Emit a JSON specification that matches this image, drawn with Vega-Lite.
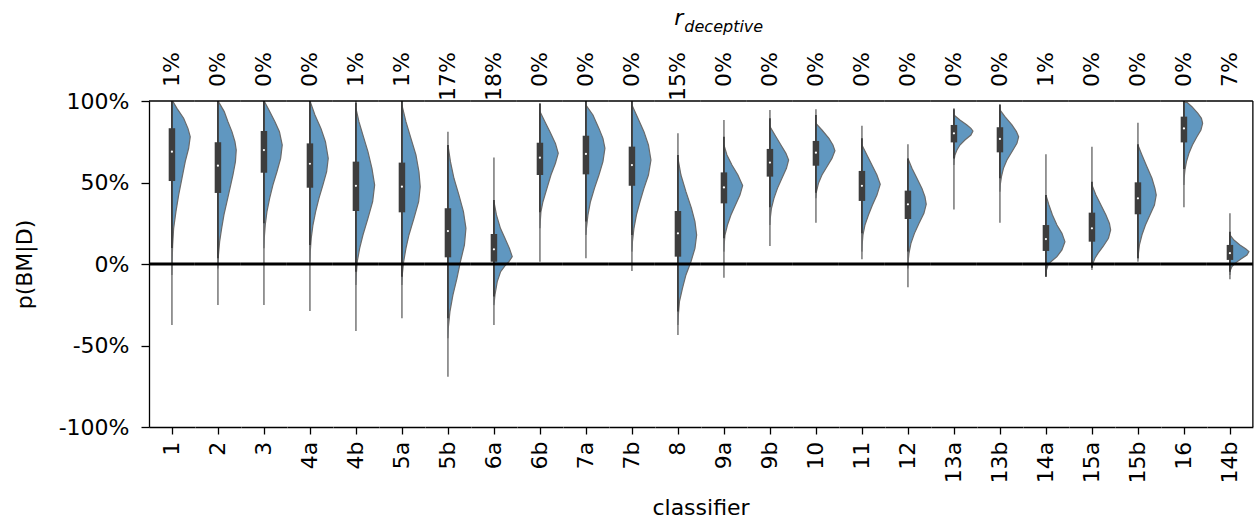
{
  "$schema": "https://vega.github.io/schema/vega-lite/v6.json",
  "padding": {"left": 13, "top": 7, "right": 5, "bottom": 5},
  "background": "white",
  "bounds": "flush",
  "spacing": 0,
  "config": {
    "font": "DejaVu Sans",
    "view": {"stroke": null},
    "axis": {"domainColor": "black", "domainWidth": 1.3, "tickColor": "black", "tickWidth": 1.3, "labelColor": "black", "titleColor": "black", "grid": false}
  },
  "title": {"text": "r", "subtitle": "\u200b\u00a0\u00a0deceptive", "fontStyle": "italic", "fontSize": 22, "fontWeight": "normal", "color": "black", "subtitleFontStyle": "italic", "subtitleFontSize": 16, "subtitleColor": "black", "anchor": "start", "frame": "bounds", "dx": 661, "offset": 16, "subtitlePadding": -11},
  "data": {"values": [
    {"c":"1","r":"1%","lo":-0.374,"hi":1.0,"wlo":0.098,"whi":1.0,"q1":0.509,"q3":0.833,"med":0.689},
    {"c":"2","r":"0%","lo":-0.252,"hi":1.0,"wlo":0.035,"whi":1.0,"q1":0.436,"q3":0.747,"med":0.603},
    {"c":"3","r":"0%","lo":-0.252,"hi":1.0,"wlo":0.25,"whi":1.0,"q1":0.56,"q3":0.816,"med":0.699},
    {"c":"4a","r":"0%","lo":-0.288,"hi":1.0,"wlo":0.117,"whi":1.0,"q1":0.468,"q3":0.74,"med":0.615},
    {"c":"4b","r":"1%","lo":-0.411,"hi":1.0,"wlo":-0.047,"whi":0.99,"q1":0.325,"q3":0.628,"med":0.48},
    {"c":"5a","r":"1%","lo":-0.333,"hi":1.0,"wlo":-0.078,"whi":1.0,"q1":0.317,"q3":0.622,"med":0.474},
    {"c":"5b","r":"17%","lo":-0.691,"hi":0.812,"wlo":-0.333,"whi":0.73,"q1":0.041,"q3":0.342,"med":0.202},
    {"c":"6a","r":"18%","lo":-0.374,"hi":0.654,"wlo":-0.2,"whi":0.393,"q1":0.014,"q3":0.184,"med":0.09},
    {"c":"6b","r":"0%","lo":0.014,"hi":0.985,"wlo":0.317,"whi":0.985,"q1":0.546,"q3":0.744,"med":0.652},
    {"c":"7a","r":"0%","lo":0.035,"hi":1.0,"wlo":0.26,"whi":1.0,"q1":0.55,"q3":0.787,"med":0.675},
    {"c":"7b","r":"0%","lo":-0.043,"hi":1.0,"wlo":0.178,"whi":1.0,"q1":0.48,"q3":0.72,"med":0.607},
    {"c":"8","r":"15%","lo":-0.436,"hi":0.802,"wlo":-0.292,"whi":0.669,"q1":0.045,"q3":0.325,"med":0.188},
    {"c":"9a","r":"0%","lo":-0.084,"hi":0.883,"wlo":0.158,"whi":0.781,"q1":0.372,"q3":0.562,"med":0.47},
    {"c":"9b","r":"0%","lo":0.11,"hi":0.945,"wlo":0.348,"whi":0.894,"q1":0.536,"q3":0.706,"med":0.622},
    {"c":"10","r":"0%","lo":0.253,"hi":0.949,"wlo":0.437,"whi":0.914,"q1":0.603,"q3":0.755,"med":0.683},
    {"c":"11","r":"0%","lo":0.029,"hi":0.848,"wlo":0.188,"whi":0.771,"q1":0.387,"q3":0.571,"med":0.48},
    {"c":"12","r":"0%","lo":-0.143,"hi":0.734,"wlo":0.076,"whi":0.648,"q1":0.276,"q3":0.45,"med":0.366},
    {"c":"13a","r":"0%","lo":0.335,"hi":0.955,"wlo":0.648,"whi":0.95,"q1":0.746,"q3":0.853,"med":0.802},
    {"c":"13b","r":"0%","lo":0.253,"hi":0.982,"wlo":0.526,"whi":0.975,"q1":0.685,"q3":0.839,"med":0.767},
    {"c":"14a","r":"1%","lo":-0.078,"hi":0.673,"wlo":-0.078,"whi":0.423,"q1":0.08,"q3":0.239,"med":0.153},
    {"c":"15a","r":"0%","lo":-0.023,"hi":0.72,"wlo":-0.023,"whi":0.505,"q1":0.137,"q3":0.315,"med":0.219},
    {"c":"15b","r":"0%","lo":0.035,"hi":0.867,"wlo":0.035,"whi":0.734,"q1":0.305,"q3":0.501,"med":0.403},
    {"c":"16","r":"0%","lo":0.348,"hi":1.0,"wlo":0.583,"whi":1.0,"q1":0.746,"q3":0.904,"med":0.832},
    {"c":"14b","r":"7%","lo":-0.094,"hi":0.311,"wlo":-0.047,"whi":0.198,"q1":0.025,"q3":0.117,"med":0.066},

    {"c":"1","v":0.996,"d":1},{"c":"1","v":0.955,"d":5},{"c":"1","v":0.894,"d":11.7},{"c":"1","v":0.832,"d":16},{"c":"1","v":0.781,"d":18.3},{"c":"1","v":0.71,"d":16.7},{"c":"1","v":0.628,"d":13.3},{"c":"1","v":0.526,"d":10},{"c":"1","v":0.423,"d":6.7},{"c":"1","v":0.321,"d":4},{"c":"1","v":0.219,"d":1.7},{"c":"1","v":0.117,"d":0.7},{"c":"1","v":0.014,"d":0.2},{"c":"1","v":-0.067,"d":0},

    {"c":"2","v":0.996,"d":0.5},{"c":"2","v":0.935,"d":6.3},{"c":"2","v":0.873,"d":10},{"c":"2","v":0.812,"d":14},{"c":"2","v":0.75,"d":17},{"c":"2","v":0.699,"d":18.3},{"c":"2","v":0.628,"d":17.5},{"c":"2","v":0.546,"d":15},{"c":"2","v":0.464,"d":12},{"c":"2","v":0.382,"d":9},{"c":"2","v":0.301,"d":6},{"c":"2","v":0.219,"d":3.7},{"c":"2","v":0.137,"d":1.7},{"c":"2","v":0.055,"d":0.5},{"c":"2","v":-0.027,"d":0},

    {"c":"3","v":0.996,"d":0.5},{"c":"3","v":0.945,"d":5},{"c":"3","v":0.873,"d":11},{"c":"3","v":0.812,"d":15.5},{"c":"3","v":0.73,"d":18.3},{"c":"3","v":0.648,"d":16.7},{"c":"3","v":0.566,"d":13},{"c":"3","v":0.485,"d":9},{"c":"3","v":0.403,"d":5.7},{"c":"3","v":0.321,"d":3},{"c":"3","v":0.239,"d":1.3},{"c":"3","v":0.158,"d":0.3},{"c":"3","v":0.096,"d":0},

    {"c":"4a","v":0.996,"d":0.3},{"c":"4a","v":0.914,"d":5},{"c":"4a","v":0.832,"d":11},{"c":"4a","v":0.75,"d":15.5},{"c":"4a","v":0.648,"d":18.3},{"c":"4a","v":0.566,"d":16.7},{"c":"4a","v":0.485,"d":13},{"c":"4a","v":0.403,"d":9},{"c":"4a","v":0.321,"d":5.7},{"c":"4a","v":0.239,"d":3},{"c":"4a","v":0.158,"d":1.3},{"c":"4a","v":0.076,"d":0.3},{"c":"4a","v":0.014,"d":0},

    {"c":"4b","v":0.955,"d":0},{"c":"4b","v":0.873,"d":3},{"c":"4b","v":0.791,"d":7},{"c":"4b","v":0.689,"d":12},{"c":"4b","v":0.587,"d":16},{"c":"4b","v":0.485,"d":18.7},{"c":"4b","v":0.382,"d":16.7},{"c":"4b","v":0.28,"d":12},{"c":"4b","v":0.178,"d":7},{"c":"4b","v":0.096,"d":3.7},{"c":"4b","v":0.014,"d":1.3},{"c":"4b","v":-0.067,"d":0.3},{"c":"4b","v":-0.129,"d":0},

    {"c":"5a","v":0.975,"d":0},{"c":"5a","v":0.873,"d":4},{"c":"5a","v":0.771,"d":9},{"c":"5a","v":0.669,"d":14},{"c":"5a","v":0.566,"d":17},{"c":"5a","v":0.474,"d":18.3},{"c":"5a","v":0.382,"d":16.7},{"c":"5a","v":0.28,"d":12},{"c":"5a","v":0.178,"d":7},{"c":"5a","v":0.096,"d":4},{"c":"5a","v":0.014,"d":1.7},{"c":"5a","v":-0.067,"d":0.3},{"c":"5a","v":-0.129,"d":0},

    {"c":"5b","v":0.73,"d":0},{"c":"5b","v":0.628,"d":2.5},{"c":"5b","v":0.526,"d":6},{"c":"5b","v":0.423,"d":11},{"c":"5b","v":0.321,"d":15.5},{"c":"5b","v":0.219,"d":18},{"c":"5b","v":0.117,"d":16.5},{"c":"5b","v":0.014,"d":12.5},{"c":"5b","v":-0.088,"d":9},{"c":"5b","v":-0.19,"d":5},{"c":"5b","v":-0.292,"d":2},{"c":"5b","v":-0.395,"d":0.3},{"c":"5b","v":-0.456,"d":0},

    {"c":"6a","v":0.382,"d":0},{"c":"6a","v":0.301,"d":2.5},{"c":"6a","v":0.219,"d":6.5},{"c":"6a","v":0.158,"d":11},{"c":"6a","v":0.096,"d":15.5},{"c":"6a","v":0.045,"d":18.3},{"c":"6a","v":0.014,"d":15},{"c":"6a","v":-0.006,"d":11.7},{"c":"6a","v":-0.047,"d":6.7},{"c":"6a","v":-0.108,"d":3.3},{"c":"6a","v":-0.19,"d":1},{"c":"6a","v":-0.252,"d":0},

    {"c":"6b","v":0.935,"d":0},{"c":"6b","v":0.873,"d":5},{"c":"6b","v":0.812,"d":10},{"c":"6b","v":0.74,"d":15.5},{"c":"6b","v":0.679,"d":18.3},{"c":"6b","v":0.618,"d":15.5},{"c":"6b","v":0.546,"d":11},{"c":"6b","v":0.464,"d":7},{"c":"6b","v":0.382,"d":3},{"c":"6b","v":0.321,"d":1},{"c":"6b","v":0.26,"d":0.3},{"c":"6b","v":0.219,"d":0},

    {"c":"7a","v":0.975,"d":0},{"c":"7a","v":0.914,"d":7},{"c":"7a","v":0.832,"d":13},{"c":"7a","v":0.771,"d":17},{"c":"7a","v":0.71,"d":19},{"c":"7a","v":0.628,"d":17},{"c":"7a","v":0.546,"d":13},{"c":"7a","v":0.464,"d":8.5},{"c":"7a","v":0.382,"d":4.5},{"c":"7a","v":0.301,"d":2},{"c":"7a","v":0.219,"d":0.5},{"c":"7a","v":0.178,"d":0},

    {"c":"7b","v":0.975,"d":0},{"c":"7b","v":0.894,"d":6},{"c":"7b","v":0.812,"d":12},{"c":"7b","v":0.73,"d":16.5},{"c":"7b","v":0.638,"d":19},{"c":"7b","v":0.546,"d":16.5},{"c":"7b","v":0.464,"d":12},{"c":"7b","v":0.382,"d":8},{"c":"7b","v":0.301,"d":4.5},{"c":"7b","v":0.219,"d":2},{"c":"7b","v":0.137,"d":0.5},{"c":"7b","v":0.076,"d":0},

    {"c":"8","v":0.648,"d":0},{"c":"8","v":0.546,"d":3},{"c":"8","v":0.444,"d":8},{"c":"8","v":0.342,"d":13.5},{"c":"8","v":0.26,"d":17},{"c":"8","v":0.178,"d":18.7},{"c":"8","v":0.096,"d":17},{"c":"8","v":0.014,"d":13},{"c":"8","v":-0.067,"d":8},{"c":"8","v":-0.149,"d":4.5},{"c":"8","v":-0.231,"d":1.5},{"c":"8","v":-0.313,"d":0.4},{"c":"8","v":-0.374,"d":0},

    {"c":"9a","v":0.73,"d":0},{"c":"9a","v":0.669,"d":3},{"c":"9a","v":0.607,"d":8},{"c":"9a","v":0.546,"d":14},{"c":"9a","v":0.481,"d":18.7},{"c":"9a","v":0.423,"d":16},{"c":"9a","v":0.362,"d":11.5},{"c":"9a","v":0.301,"d":7},{"c":"9a","v":0.239,"d":3.5},{"c":"9a","v":0.178,"d":1},{"c":"9a","v":0.117,"d":0.2},{"c":"9a","v":0.076,"d":0},

    {"c":"9b","v":0.843,"d":0},{"c":"9b","v":0.791,"d":5},{"c":"9b","v":0.73,"d":11},{"c":"9b","v":0.679,"d":16},{"c":"9b","v":0.638,"d":18.7},{"c":"9b","v":0.587,"d":16.5},{"c":"9b","v":0.526,"d":12},{"c":"9b","v":0.464,"d":7.5},{"c":"9b","v":0.403,"d":4},{"c":"9b","v":0.342,"d":1.5},{"c":"9b","v":0.28,"d":0.3},{"c":"9b","v":0.239,"d":0},

    {"c":"10","v":0.863,"d":0},{"c":"10","v":0.822,"d":6},{"c":"10","v":0.771,"d":13},{"c":"10","v":0.73,"d":17},{"c":"10","v":0.695,"d":19},{"c":"10","v":0.648,"d":16},{"c":"10","v":0.597,"d":11},{"c":"10","v":0.546,"d":6},{"c":"10","v":0.495,"d":2.5},{"c":"10","v":0.444,"d":0.5},{"c":"10","v":0.403,"d":0},

    {"c":"11","v":0.73,"d":0},{"c":"11","v":0.669,"d":5},{"c":"11","v":0.607,"d":10},{"c":"11","v":0.546,"d":15},{"c":"11","v":0.489,"d":18.3},{"c":"11","v":0.423,"d":15},{"c":"11","v":0.362,"d":10.5},{"c":"11","v":0.301,"d":6.5},{"c":"11","v":0.239,"d":3},{"c":"11","v":0.178,"d":1},{"c":"11","v":0.117,"d":0.2},{"c":"11","v":0.076,"d":0},

    {"c":"12","v":0.648,"d":0},{"c":"12","v":0.587,"d":4},{"c":"12","v":0.526,"d":9},{"c":"12","v":0.464,"d":14},{"c":"12","v":0.413,"d":17},{"c":"12","v":0.366,"d":18.3},{"c":"12","v":0.311,"d":16},{"c":"12","v":0.249,"d":11},{"c":"12","v":0.188,"d":6.5},{"c":"12","v":0.127,"d":3},{"c":"12","v":0.065,"d":1},{"c":"12","v":0.014,"d":0.2},{"c":"12","v":-0.027,"d":0},

    {"c":"13a","v":0.914,"d":0},{"c":"13a","v":0.883,"d":6},{"c":"13a","v":0.853,"d":13},{"c":"13a","v":0.832,"d":17},{"c":"13a","v":0.816,"d":19},{"c":"13a","v":0.791,"d":17},{"c":"13a","v":0.761,"d":11},{"c":"13a","v":0.73,"d":6},{"c":"13a","v":0.699,"d":3},{"c":"13a","v":0.669,"d":1},{"c":"13a","v":0.638,"d":0.2},{"c":"13a","v":0.607,"d":0},

    {"c":"13b","v":0.945,"d":0},{"c":"13b","v":0.904,"d":5},{"c":"13b","v":0.853,"d":12},{"c":"13b","v":0.812,"d":16.5},{"c":"13b","v":0.781,"d":18.7},{"c":"13b","v":0.74,"d":17},{"c":"13b","v":0.689,"d":12},{"c":"13b","v":0.638,"d":7},{"c":"13b","v":0.587,"d":3.5},{"c":"13b","v":0.536,"d":1.5},{"c":"13b","v":0.485,"d":0.3},{"c":"13b","v":0.444,"d":0},

    {"c":"14a","v":0.423,"d":0},{"c":"14a","v":0.362,"d":3},{"c":"14a","v":0.301,"d":6.5},{"c":"14a","v":0.239,"d":11},{"c":"14a","v":0.188,"d":16},{"c":"14a","v":0.137,"d":19},{"c":"14a","v":0.086,"d":16},{"c":"14a","v":0.045,"d":11},{"c":"14a","v":0.014,"d":5},{"c":"14a","v":-0.006,"d":2},{"c":"14a","v":-0.037,"d":0.5},{"c":"14a","v":-0.067,"d":0},

    {"c":"15a","v":0.485,"d":0},{"c":"15a","v":0.423,"d":4},{"c":"15a","v":0.362,"d":9},{"c":"15a","v":0.301,"d":14},{"c":"15a","v":0.249,"d":17.5},{"c":"15a","v":0.209,"d":18.7},{"c":"15a","v":0.158,"d":16.5},{"c":"15a","v":0.106,"d":11},{"c":"15a","v":0.065,"d":6},{"c":"15a","v":0.035,"d":3},{"c":"15a","v":0.004,"d":1},{"c":"15a","v":-0.016,"d":0.2},{"c":"15a","v":-0.037,"d":0},

    {"c":"15b","v":0.73,"d":0},{"c":"15b","v":0.669,"d":4},{"c":"15b","v":0.597,"d":9},{"c":"15b","v":0.526,"d":14},{"c":"15b","v":0.464,"d":17},{"c":"15b","v":0.423,"d":18.3},{"c":"15b","v":0.362,"d":16.5},{"c":"15b","v":0.301,"d":12},{"c":"15b","v":0.239,"d":7.5},{"c":"15b","v":0.178,"d":4},{"c":"15b","v":0.117,"d":1.5},{"c":"15b","v":0.055,"d":0.3},{"c":"15b","v":0.014,"d":0},

    {"c":"16","v":0.992,"d":3},{"c":"16","v":0.965,"d":8},{"c":"16","v":0.924,"d":14},{"c":"16","v":0.894,"d":17.5},{"c":"16","v":0.863,"d":18.7},{"c":"16","v":0.822,"d":17},{"c":"16","v":0.781,"d":13},{"c":"16","v":0.73,"d":8.5},{"c":"16","v":0.679,"d":5},{"c":"16","v":0.628,"d":2.5},{"c":"16","v":0.577,"d":1},{"c":"16","v":0.526,"d":0.2},{"c":"16","v":0.485,"d":0},

    {"c":"14b","v":0.178,"d":0},{"c":"14b","v":0.147,"d":4},{"c":"14b","v":0.117,"d":10},{"c":"14b","v":0.092,"d":16},{"c":"14b","v":0.076,"d":19},{"c":"14b","v":0.055,"d":17},{"c":"14b","v":0.031,"d":11},{"c":"14b","v":0.004,"d":5},{"c":"14b","v":-0.016,"d":2},{"c":"14b","v":-0.037,"d":0.5},{"c":"14b","v":-0.067,"d":0}
  ]},
  "facet": {
    "column": {
      "field": "c", "type": "nominal",
      "sort": ["1","2","3","4a","4b","5a","5b","6a","6b","7a","7b","8","9a","9b","10","11","12","13a","13b","14a","15a","15b","16","14b"],
      "header": {
        "title": "classifier", "titleOrient": "bottom", "titleFontSize": 22, "titleFontWeight": "normal", "titleColor": "black", "titlePadding": 4,
        "labelOrient": "bottom", "labelAngle": 270, "labelAlign": "right", "labelBaseline": "middle", "labelFontSize": 22, "labelColor": "black", "labelPadding": 7
      }
    }
  },
  "spec": {
    "width": 45.875,
    "height": 326,
    "layer": [
      {
        "transform": [{"filter": "isValid(datum.med)"}],
        "mark": {"type": "rule", "color": "#767676", "strokeWidth": 1.5},
        "encoding": {
          "x": {"datum": 0, "type": "quantitative"},
          "y": {"field": "lo", "type": "quantitative", "title": "p(BM|D)"},
          "y2": {"field": "hi"}
        }
      },
      {
        "transform": [{"filter": "isValid(datum.d)"}],
        "mark": {"type": "area", "orient": "horizontal", "fill": "#6097c0", "stroke": "#6a6a6a", "strokeWidth": 1.2, "opacity": 1},
        "encoding": {
          "y": {"field": "v", "type": "quantitative", "title": "p(BM|D)",
                "scale": {"domain": [-1, 1], "nice": false, "zero": false},
                "axis": {"values": [-1, -0.5, 0, 0.5, 1], "labelExpr": "round(datum.value*100) + '%'", "labelFontSize": 22, "titleFontSize": 22, "titleFontWeight": "normal", "tickSize": 8, "labelPadding": 12, "titlePadding": 22}},
          "x": {"field": "d", "type": "quantitative", "stack": null,
                "scale": {"domain": [-22.9375, 22.9375], "nice": false, "zero": false},
                "axis": {"values": [0], "labels": false, "tickSize": 7, "title": null, "orient": "bottom"}},
          "x2": {"datum": 0}
        }
      },
      {
        "transform": [{"filter": "isValid(datum.med)"}],
        "mark": {"type": "rule", "color": "#3d3d3d", "strokeWidth": 1.8},
        "encoding": {
          "x": {"datum": 0, "type": "quantitative"},
          "y": {"field": "wlo", "type": "quantitative", "title": "p(BM|D)"},
          "y2": {"field": "whi"}
        }
      },
      {
        "transform": [{"filter": "isValid(datum.med)"}],
        "mark": {"type": "rule", "color": "#3d3d3d", "strokeWidth": 6.5, "strokeCap": "butt"},
        "encoding": {
          "x": {"datum": 0, "type": "quantitative"},
          "y": {"field": "q1", "type": "quantitative", "title": "p(BM|D)"},
          "y2": {"field": "q3"}
        }
      },
      {
        "transform": [{"filter": "isValid(datum.med)"}],
        "mark": {"type": "point", "filled": true, "color": "white", "size": 5, "opacity": 1},
        "encoding": {
          "x": {"datum": 0, "type": "quantitative"},
          "y": {"field": "med", "type": "quantitative", "title": "p(BM|D)"}
        }
      },
      {
        "transform": [{"filter": "isValid(datum.med)"}],
        "mark": {"type": "rule", "color": "black", "strokeWidth": 3},
        "encoding": {"y": {"datum": 0, "type": "quantitative"}}
      },
      {
        "transform": [{"filter": "isValid(datum.med)"}],
        "mark": {"type": "rule", "color": "black", "strokeWidth": 1.3},
        "encoding": {"y": {"datum": 1, "type": "quantitative"}}
      },
      {
        "transform": [{"filter": "datum.c == '14b' && isValid(datum.med)"}],
        "mark": {"type": "rule", "color": "black", "strokeWidth": 1.3},
        "encoding": {"x": {"datum": 22.9375, "type": "quantitative"}}
      },
      {
        "transform": [{"filter": "isValid(datum.med)"}],
        "mark": {"type": "text", "angle": 270, "align": "right", "baseline": "middle", "fontSize": 22, "color": "black"},
        "encoding": {
          "x": {"datum": 0, "type": "quantitative"},
          "y": {"datum": 1.3, "type": "quantitative"},
          "text": {"field": "r"}
        }
      }
    ]
  }
}
